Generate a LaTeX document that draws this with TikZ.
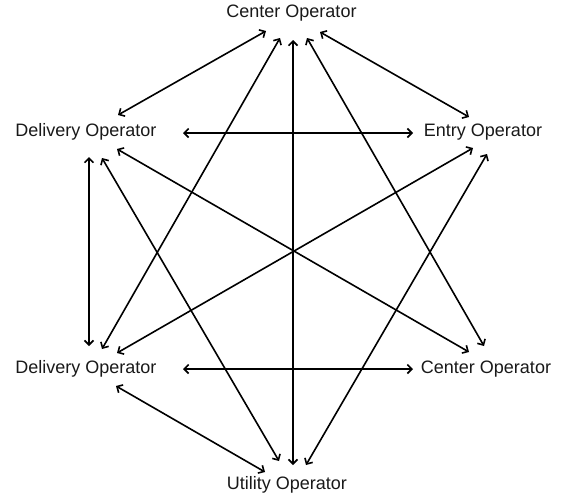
\documentclass[tikz,border=0pt]{standalone}
\usepackage{fontspec}
\setmainfont{Liberation Sans}
\usetikzlibrary{arrows.meta,calc}
\begin{document}
\begin{tikzpicture}[x=1pt,y=-1pt,
  lbl/.style={inner sep=0pt,font=\fontsize{18}{22}\selectfont,text=black!90},
  arr/.style={draw=black,line width=1.6pt,{Straight Barb[length=4.5pt,width=9pt]}-{Straight Barb[length=4.5pt,width=9pt]}}]
\useasboundingbox (0,0) rectangle (563,498);
\node[lbl] (t)  at (291.5,13) {Center Operator};
\node[lbl] (dt) at (86,132) {Delivery Operator};
\node[lbl] (e)  at (483,132) {Entry Operator};
\node[lbl] (db) at (86,369) {Delivery Operator};
\node[lbl] (cr) at (486,369) {Center Operator};
\node[lbl] (u)  at (287,485) {Utility Operator};
\draw[arr] ($(t.center)+(-25.5,18)$) -- ($(dt.center)+(32,-17)$);
\draw[arr] ($(t.center)+(-11.5,25)$) -- ($(db.center)+(16,-20)$);
\draw[arr] ($(t.center)+(1.5,27)$) -- ($(u.center)+(6,-20)$);
\draw[arr] ($(t.center)+(15.5,25)$) -- ($(cr.center)+(-2,-23)$);
\draw[arr] ($(t.center)+(28.5,19)$) -- ($(e.center)+(-14,-15)$);
\draw[arr] ($(dt.center)+(97,1)$) -- ($(e.center)+(-70,1)$);
\draw[arr] ($(dt.center)+(3,25)$) -- ($(db.center)+(3,-23)$);
\draw[arr] ($(dt.center)+(16,26)$) -- ($(u.center)+(-8,-24)$);
\draw[arr] ($(dt.center)+(31,17)$) -- ($(cr.center)+(-17,-17)$);
\draw[arr] ($(e.center)+(-10,16)$) -- ($(db.center)+(31,-16)$);
\draw[arr] ($(e.center)+(4,22)$) -- ($(u.center)+(19,-20)$);
\draw[arr] ($(db.center)+(97,0)$) -- ($(cr.center)+(-73,0)$);
\draw[arr] ($(db.center)+(30,17)$) -- ($(u.center)+(-22,-13)$);
\end{tikzpicture}
\end{document}
